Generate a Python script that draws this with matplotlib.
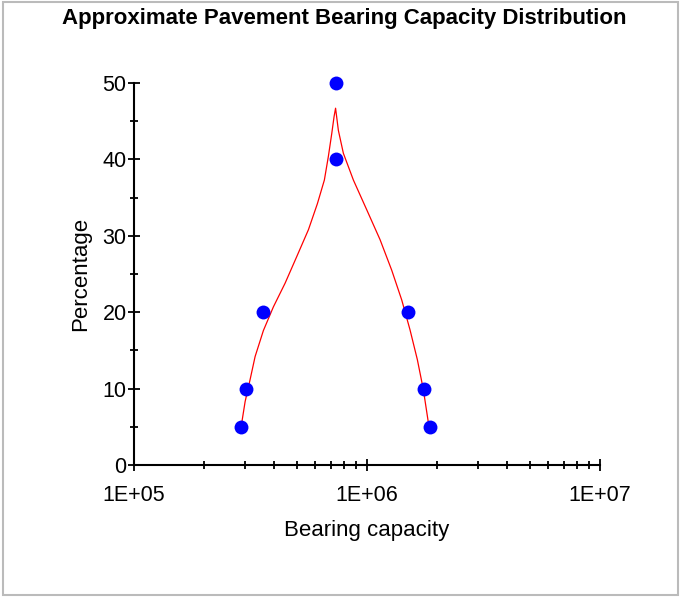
import matplotlib.pyplot as plt
from matplotlib.patches import Rectangle
from matplotlib.ticker import FixedLocator, LogLocator, NullFormatter

plt.rcParams['font.family'] = ['Liberation Sans', 'DejaVu Sans']

# measured points
cap_x = [2.88e5, 3.03e5, 3.58e5, 7.36e5, 7.36e5, 1.5e6, 1.76e6, 1.86e6]
pct_y = [5, 10, 20, 40, 50, 20, 10, 5]

# fitted curve
curve_x = [2.879e5, 2.995e5, 3.147e5, 3.306e5, 3.588e5, 3.961e5, 4.447e5, 4.993e5, 5.601e5,
           6.119e5, 6.557e5, 6.822e5, 7.055e5, 7.217e5, 7.325e5,
           7.530e5, 7.912e5, 8.735e5, 9.970e5, 1.137e6, 1.276e6, 1.409e6, 1.529e6,
           1.644e6, 1.744e6, 1.845e6]
curve_y = [5.0, 8.3, 11.2, 14.2, 17.6, 20.7, 23.8, 27.3, 30.8,
           34.2, 37.3, 40.4, 43.4, 45.6, 46.7,
           43.8, 40.8, 37.3, 33.4, 29.5, 25.5, 21.6, 17.7,
           13.8, 9.9, 5.0]

fig = plt.figure(figsize=(6.81, 5.97), dpi=100)
ax = fig.add_axes([0.197, 0.221, 0.684, 0.640])

ax.plot(curve_x, curve_y, color='#ff0000', lw=0.9, zorder=2)
ax.plot(cap_x, pct_y, 'o', color='#0000ff', ms=10, mec='none', zorder=3, clip_on=False)

ax.set_xscale('log')
ax.set_xlim(1e5, 1e7)
ax.set_ylim(0, 50)
ax.set_xticks([1e5, 1e6, 1e7])
ax.set_xticklabels(['1E+05', '1E+06', '1E+07'])
ax.xaxis.set_minor_locator(LogLocator(base=10, subs=range(2, 10)))
ax.xaxis.set_minor_formatter(NullFormatter())
ax.set_yticks([0, 10, 20, 30, 40, 50])
ax.yaxis.set_minor_locator(FixedLocator([5, 15, 25, 35, 45]))

for s in ['top', 'right']:
    ax.spines[s].set_visible(False)
for s in ['left', 'bottom']:
    ax.spines[s].set_linewidth(1.5)

ax.tick_params(which='major', direction='inout', length=9, width=1.3, labelsize=15.5, pad=1)
ax.tick_params(which='minor', direction='inout', length=6, width=1.3)
ax.tick_params(axis='x', which='major', pad=10)

ax.set_xlabel('Bearing capacity', fontsize=16, labelpad=10)
ax.set_ylabel('Percentage', fontsize=16, labelpad=8)
fig.text(0.505, 0.969, 'Approximate Pavement Bearing Capacity Distribution',
         ha='center', va='center', fontsize=16, fontweight='bold')

fig.patches.append(Rectangle((0.004, 0.004), 0.992, 0.992, transform=fig.transFigure,
                             fill=False, edgecolor='#bbbbbb', lw=1.5))

fig.savefig('out.png', dpi=100)
